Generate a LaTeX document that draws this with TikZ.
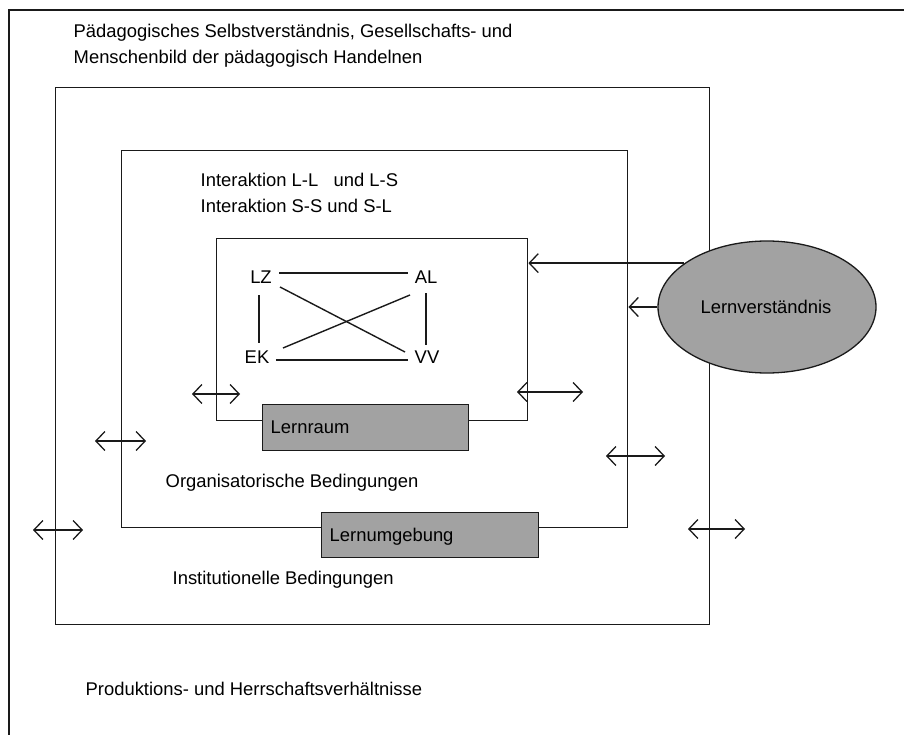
\documentclass[tikz,border=0pt]{standalone}
\usepackage{fontspec}
\setmainfont{Liberation Sans}
\usetikzlibrary{arrows.meta,shapes.geometric}
\definecolor{boxgray}{HTML}{A2A2A2}
\definecolor{linecol}{HTML}{1A1A1A}
\begin{document}
\begin{tikzpicture}[x=1pt,y=-1pt,
  font=\fontsize{18.4}{21}\selectfont,
  line width=1.4pt, draw=linecol,
  lbl/.style={anchor=base west, inner sep=0},
  gbox/.style={draw=linecol, fill=boxgray, line width=1.4pt, anchor=north west, inner sep=0},
  dim/.style={line width=1.3pt},
  darr/.style={dim, {Straight Barb[length=9pt,width=19pt]}-{Straight Barb[length=9pt,width=19pt]}},
  sarr/.style={dim, -{Straight Barb[length=9pt,width=19pt]}},
  kn/.style={inner sep=0, anchor=center}
]
\useasboundingbox (0,0) rectangle (904,735);
\fill[white] (0,0) rectangle (904,735);
% outermost frame (top and left edges only)
\coordinate (o1) at (9,10);
\coordinate (o2) at (905,10);
\coordinate (o3) at (9,736);
\draw (o3) -- (o1) -- (o2);
\node[lbl] (t1) at (73,38) {Pädagogisches Selbstverständnis, Gesellschafts- und};
\node[lbl] (t2) at (73,64) {Menschenbild der pädagogisch Handelnen};

% boxes
\node[draw=linecol, line width=1.4pt, anchor=north west, inner sep=0, minimum width=654pt, minimum height=537pt] (b2) at (55,87) {};
\node[draw=linecol, line width=1.4pt, anchor=north west, inner sep=0, minimum width=506pt, minimum height=377pt] (b3) at (121,150) {};
\node[draw=linecol, line width=1.4pt, anchor=north west, inner sep=0, minimum width=311pt, minimum height=182pt] (b4) at (216,238) {};

\node[lbl] (i1) at (200,187) {Interaktion L-L \ \ und L-S};
\node[lbl] (i2) at (200,213) {Interaktion S-S und S-L};

% inner quadrilateral
\node[kn, inner sep=4pt] (lz) at (261,277) {LZ};
\node[kn, inner sep=4pt] (al) at (426,277) {AL};
\node[kn, inner sep=4pt] (ek) at (257,357) {EK};
\node[kn, inner sep=4pt] (vv) at (427,357) {VV};
\draw ([xshift=3pt]lz.east |- 0,273) -- ([xshift=-2pt]al.west |- 0,273);
\draw ([xshift=-2pt]lz.south |- 0,295) -- ([xshift=-2pt]lz.south |- 0,343);
\draw (al.south |- 0,293) -- (al.south |- 0,345);
\draw ([xshift=2pt]ek.east |- 0,360) -- ([xshift=-2pt]vv.west |- 0,360);
\draw (280,287) -- (405,352);
\draw (283,348) -- (410,295);

% grey boxes
\node[gbox, minimum width=206pt, minimum height=46pt] (lr) at (262,404) {};
\node[lbl] (lrt) at (270,433) {Lernraum};
\node[gbox, minimum width=217pt, minimum height=45pt] (lu) at (321,512) {};
\node[lbl] (lut) at (329,541) {Lernumgebung};

\node[lbl] (ob) at (165,487) {Organisatorische Bedingungen};
\node[lbl] (ib) at (172,584) {Institutionelle Bedingungen};
\node[lbl] (ph) at (85,695) {Produktions- und Herrschaftsverhältnisse};

% ellipse
\node[ellipse, draw=linecol, fill=boxgray, line width=1.3pt, minimum width=218pt, minimum height=132pt, inner sep=0] (lv) at (767,307) {};
\node[kn] (lvt) at (766,307) {Lernverständnis};
\draw[sarr] (lv.152.6) -- (lv.152.6 -| b4.east);
\draw[sarr] (lv.west) -- (lv.west -| b3.east);

% double arrows
\coordinate (d1a) at (192,394); \coordinate (d1b) at (240,394);
\coordinate (d2a) at (517,392); \coordinate (d2b) at (583,392);
\coordinate (d3a) at (95,441);  \coordinate (d3b) at (146,441);
\coordinate (d4a) at (606,456); \coordinate (d4b) at (665,456);
\coordinate (d5a) at (33,530);  \coordinate (d5b) at (83,530);
\coordinate (d6a) at (688,529); \coordinate (d6b) at (745,529);
\draw[darr] (d1a) -- (d1b);
\draw[darr] (d2a) -- (d2b);
\draw[darr] (d3a) -- (d3b);
\draw[darr] (d4a) -- (d4b);
\draw[darr] (d5a) -- (d5b);
\draw[darr] (d6a) -- (d6b);
\end{tikzpicture}
\end{document}
